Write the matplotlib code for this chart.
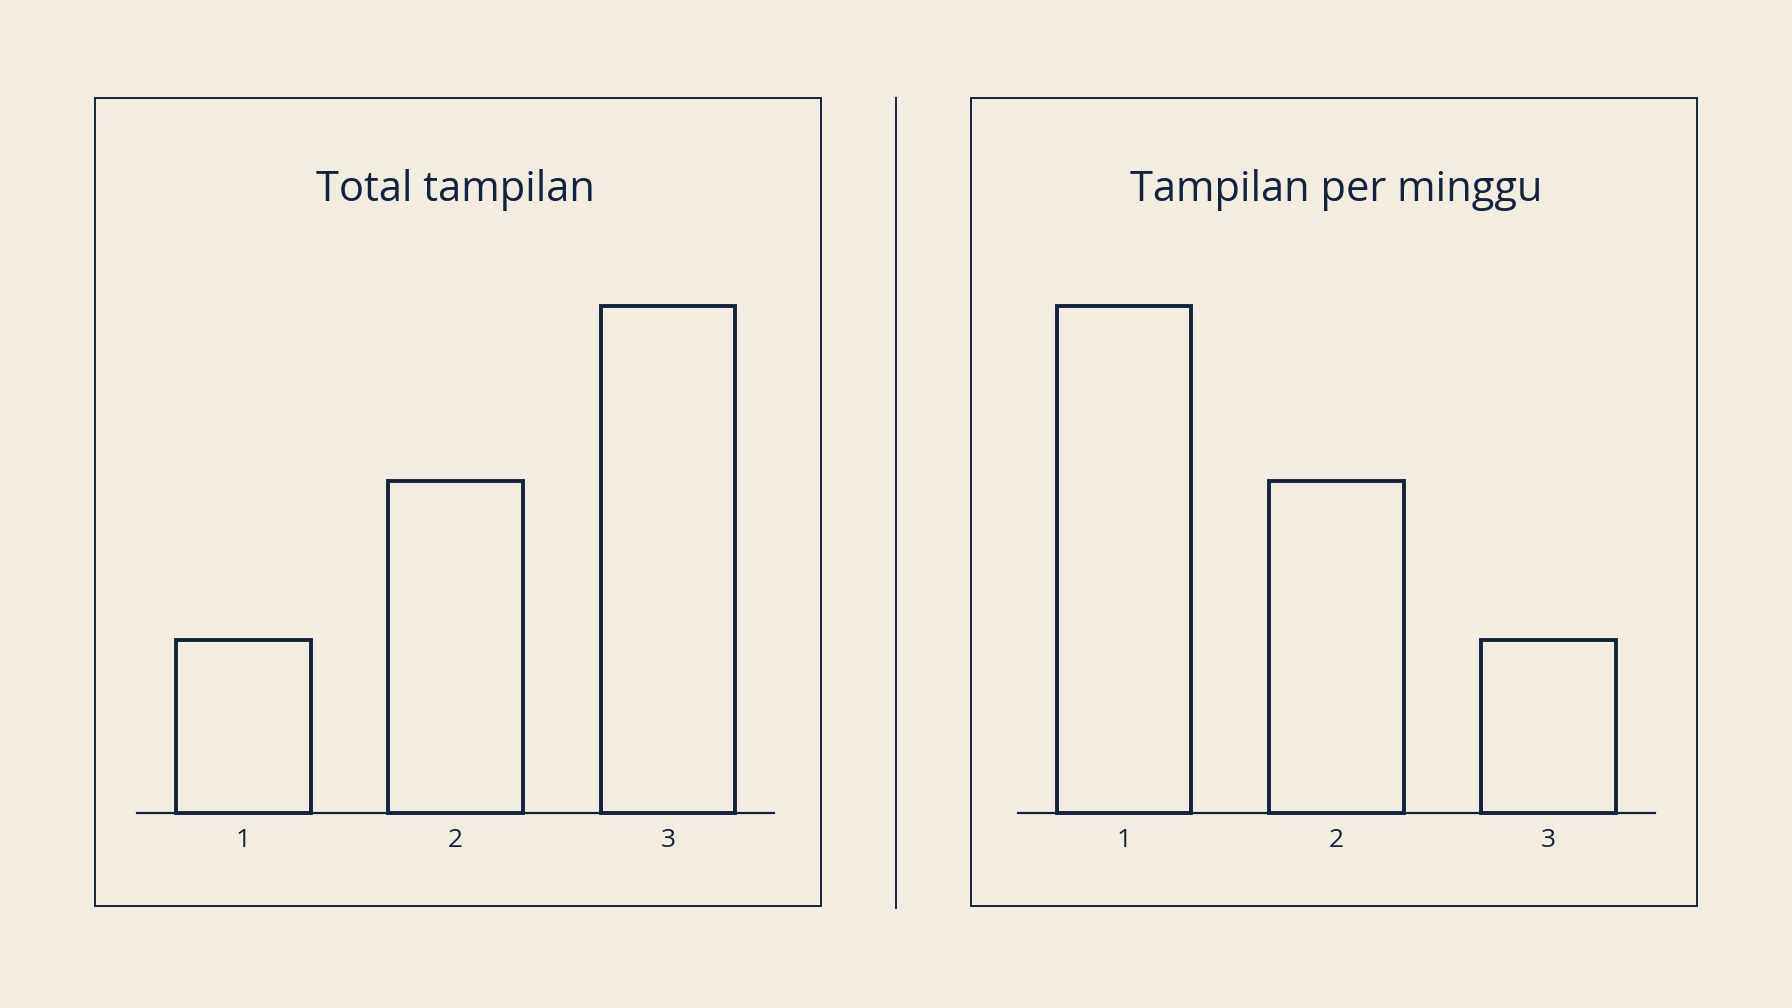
import matplotlib
matplotlib.use('Agg')
import matplotlib.pyplot as plt
from matplotlib.patches import Rectangle
from matplotlib.lines import Line2D

# data (tallest bar = 100)
weeks = [1, 2, 3]
week_labels = ['1', '2', '3']
total_views = [34, 65.5, 100]
weekly_views = [100, 65.5, 34]
titles = ['Total tampilan', 'Tampilan per minggu']

BG = '#F2ECE1'
INK = '#14233D'

plt.rcParams['font.family'] = ['Open Sans', 'DejaVu Sans']

fig = plt.figure(figsize=(17.92, 10.08), dpi=100, facecolor=BG)


def draw_panel(x_box, x_ax, title, values):
    # thin frame round the panel
    fig.patches.append(Rectangle((x_box, 0.1012), 0.405, 0.8016,
                                 transform=fig.transFigure, fill=False,
                                 edgecolor=INK, linewidth=1.4))
    ax = fig.add_axes([x_ax, 0.1938, 0.3555, 0.5026])
    ax.set_facecolor('none')
    ax.bar(weeks, values, width=0.635, color=BG, edgecolor=INK,
           linewidth=2.8, clip_on=False)
    ax.set_xlim(0.5, 3.5)
    ax.set_ylim(0, 100)
    for side in ['top', 'right', 'left']:
        ax.spines[side].set_visible(False)
    ax.spines['bottom'].set_color(INK)
    ax.spines['bottom'].set_linewidth(1.6)
    ax.spines['bottom'].set_zorder(5)
    ax.set_yticks([])
    ax.set_xticks(weeks)
    ax.set_xticklabels(week_labels, fontsize=19, color=INK)
    ax.tick_params(axis='x', length=0, pad=11)
    fig.text(x_ax + 0.3555 / 2, 0.812, title, ha='center', va='center',
             fontsize=30, color=INK)
    return ax


draw_panel(0.053, 0.0765, titles[0], total_views)
draw_panel(0.5419, 0.568, titles[1], weekly_views)

# divider between the two panels
fig.lines.append(Line2D([0.5, 0.5], [0.0992, 0.9028], transform=fig.transFigure,
                        color=INK, linewidth=1.4))

plt.savefig('out.png', dpi=100, facecolor=BG)
